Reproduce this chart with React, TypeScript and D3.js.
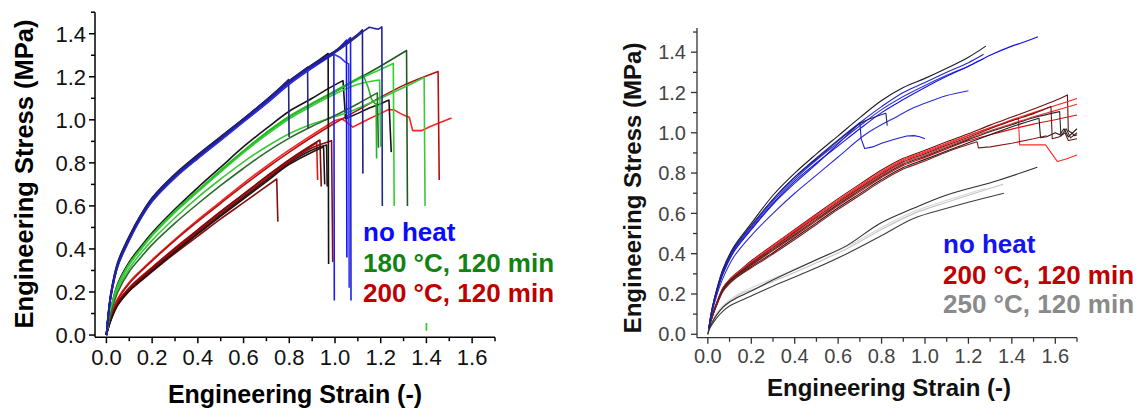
import React from 'react';
import * as d3 from 'd3';

type Pt = [number, number];
interface Curve { color: string; rise: Pt[]; tail?: Pt[] }

// ---------- shared axis ticks ----------
const xTicks = [0, 0.2, 0.4, 0.6, 0.8, 1.0, 1.2, 1.4, 1.6];
const xMinorTicks = [0.1, 0.3, 0.5, 0.7, 0.9, 1.1, 1.3, 1.5, 1.7];
const yTicks = [0, 0.2, 0.4, 0.6, 0.8, 1.0, 1.2, 1.4];
const yMinorTicks = [0.1, 0.3, 0.5, 0.7, 0.9, 1.1, 1.3, 1.5];

const xTitle = 'Engineering Strain (-)';
const yTitle = 'Engineering Stress (MPa)';

// ---------- left panel: no heat / 180 °C / 200 °C ----------
const leftLegend = ['no heat', '180 °C, 120 min', '200 °C, 120 min'];
const leftLegendColors = ['#0a0aff', '#128312', '#c00000'];

const leftNoHeat: Curve[] = [
  { color: '#26267a', rise: [[0, 0], [0.005, 0.06], [0.02, 0.19], [0.05, 0.33], [0.1, 0.45], [0.15, 0.55], [0.2, 0.63], [0.3, 0.74], [0.4, 0.83], [0.5, 0.915], [0.6, 1.0], [0.7, 1.09], [0.797, 1.187]], tail: [[0.799, 0.92]] },
  { color: '#2b2b6b', rise: [[0, 0], [0.005, 0.058], [0.02, 0.185], [0.05, 0.325], [0.1, 0.445], [0.15, 0.545], [0.2, 0.625], [0.3, 0.735], [0.4, 0.825], [0.5, 0.91], [0.6, 0.995], [0.7, 1.085], [0.8, 1.175], [0.88, 1.245]], tail: [[0.882, 0.96]] },
  { color: '#111111', rise: [[0, 0], [0.005, 0.065], [0.02, 0.2], [0.05, 0.34], [0.1, 0.46], [0.15, 0.558], [0.2, 0.638], [0.3, 0.748], [0.4, 0.838], [0.5, 0.922], [0.6, 1.005], [0.7, 1.092], [0.8, 1.18], [0.9, 1.255], [0.97, 1.308]], tail: [[0.972, 0.33]] },
  { color: '#1c1cf0', rise: [[0, 0], [0.005, 0.055], [0.02, 0.18], [0.05, 0.32], [0.1, 0.44], [0.15, 0.54], [0.2, 0.62], [0.3, 0.73], [0.4, 0.82], [0.5, 0.905], [0.6, 0.99], [0.7, 1.075], [0.8, 1.165], [0.9, 1.24], [0.995, 1.305]], tail: [[0.997, 0.16]] },
  { color: '#3a3ae6', rise: [[0, 0], [0.005, 0.057], [0.02, 0.183], [0.05, 0.322], [0.1, 0.442], [0.15, 0.542], [0.2, 0.622], [0.3, 0.732], [0.4, 0.823], [0.5, 0.908], [0.6, 0.993], [0.7, 1.08], [0.8, 1.17], [0.9, 1.245], [0.96, 1.293]], tail: [[0.98, 1.305], [1.0, 1.302], [1.025, 1.288], [1.045, 1.268], [1.06, 1.26], [1.062, 0.22]] },
  { color: '#0d0dff', rise: [[0, 0], [0.005, 0.06], [0.02, 0.19], [0.05, 0.332], [0.1, 0.452], [0.15, 0.552], [0.2, 0.632], [0.3, 0.742], [0.4, 0.832], [0.5, 0.917], [0.6, 1.002], [0.7, 1.09], [0.8, 1.178], [0.9, 1.252], [1.0, 1.318], [1.05, 1.37]], tail: [[1.052, 0.36]] },
  { color: '#2020e0', rise: [[0, 0], [0.005, 0.059], [0.02, 0.188], [0.05, 0.328], [0.1, 0.448], [0.15, 0.548], [0.2, 0.628], [0.3, 0.738], [0.4, 0.828], [0.5, 0.913], [0.6, 0.998], [0.7, 1.087], [0.8, 1.176], [0.9, 1.25], [1.0, 1.315], [1.068, 1.382]], tail: [[1.07, 0.16]] },
  { color: '#202080', rise: [[0, 0], [0.005, 0.062], [0.02, 0.193], [0.05, 0.335], [0.1, 0.455], [0.15, 0.555], [0.2, 0.635], [0.3, 0.745], [0.4, 0.835], [0.5, 0.92], [0.6, 1.004], [0.7, 1.093], [0.8, 1.182], [0.9, 1.256], [1.0, 1.32], [1.1, 1.398], [1.12, 1.418]], tail: [[1.122, 0.75]] },
  { color: '#24249a', rise: [[0, 0], [0.005, 0.058], [0.02, 0.187], [0.05, 0.327], [0.1, 0.447], [0.15, 0.547], [0.2, 0.627], [0.3, 0.737], [0.4, 0.827], [0.5, 0.912], [0.6, 0.997], [0.7, 1.086], [0.8, 1.174], [0.9, 1.248], [1.0, 1.312], [1.1, 1.39], [1.125, 1.412]], tail: [[1.15, 1.43], [1.17, 1.425], [1.19, 1.421], [1.205, 1.432], [1.207, 0.6]] },
];

const left180: Curve[] = [
  { color: '#161616', rise: [[0, 0], [0.005, 0.042], [0.02, 0.125], [0.05, 0.24], [0.1, 0.34], [0.15, 0.41], [0.2, 0.475], [0.3, 0.585], [0.4, 0.685], [0.5, 0.78], [0.6, 0.875], [0.7, 0.96], [0.8, 1.04], [0.9, 1.1], [0.97, 1.145], [1.035, 1.182]], tail: [[1.046, 1.005], [1.1, 1.03], [1.15, 1.055], [1.2, 1.075], [1.236, 1.092], [1.246, 0.85]] },
  { color: '#1f5a1f', rise: [[0, 0], [0.005, 0.04], [0.02, 0.12], [0.05, 0.23], [0.1, 0.33], [0.15, 0.4], [0.2, 0.465], [0.3, 0.575], [0.4, 0.67], [0.5, 0.765], [0.6, 0.855], [0.7, 0.94], [0.8, 1.015], [0.9, 1.075], [1.0, 1.13], [1.1, 1.19], [1.2, 1.25], [1.313, 1.322]], tail: [[1.317, 0.6]] },
  { color: '#2ed12e', rise: [[0, 0], [0.005, 0.041], [0.02, 0.122], [0.05, 0.232], [0.1, 0.332], [0.15, 0.402], [0.2, 0.467], [0.3, 0.577], [0.4, 0.672], [0.5, 0.767], [0.6, 0.857], [0.7, 0.942], [0.8, 1.017], [0.9, 1.077], [1.0, 1.132], [1.1, 1.187], [1.2, 1.235], [1.255, 1.262]], tail: [[1.259, 0.6]] },
  { color: '#3cc83c', rise: [[0, 0], [0.005, 0.035], [0.02, 0.11], [0.05, 0.215], [0.1, 0.31], [0.15, 0.38], [0.2, 0.44], [0.3, 0.545], [0.4, 0.64], [0.5, 0.725], [0.6, 0.805], [0.7, 0.875], [0.8, 0.935], [0.9, 0.98], [1.0, 1.015], [1.07, 1.04], [1.2, 1.1], [1.3, 1.15], [1.39, 1.197]], tail: [[1.394, 0.6]] },
  { color: '#25b525', rise: [[0, 0], [0.005, 0.04], [0.02, 0.12], [0.05, 0.23], [0.1, 0.33], [0.15, 0.4], [0.2, 0.465], [0.3, 0.575], [0.4, 0.67], [0.5, 0.763], [0.6, 0.853], [0.7, 0.938], [0.8, 1.013], [0.9, 1.075], [1.0, 1.135], [1.124, 1.207]], tail: [[1.145, 1.15], [1.16, 1.095], [1.175, 1.075], [1.18, 1.075], [1.182, 0.82]] },
  { color: '#33cc33', rise: [[0, 0], [0.005, 0.039], [0.02, 0.118], [0.05, 0.228], [0.1, 0.327], [0.15, 0.397], [0.2, 0.462], [0.3, 0.57], [0.4, 0.665], [0.5, 0.758], [0.6, 0.848], [0.7, 0.93], [0.8, 1.005], [0.9, 1.065], [1.0, 1.12], [1.1, 1.165], [1.195, 1.185]], tail: [[1.2, 0.875]] },
  { color: '#2d6b2d', rise: [[0, 0], [0.005, 0.033], [0.02, 0.1], [0.05, 0.2], [0.1, 0.295], [0.15, 0.36], [0.2, 0.42], [0.3, 0.52], [0.4, 0.61], [0.5, 0.695], [0.6, 0.775], [0.7, 0.85], [0.8, 0.915], [0.9, 0.97], [1.0, 1.02], [1.1, 1.075], [1.185, 1.125]], tail: [[1.19, 0.87]] },
];

// short green mark near the strain axis
const left180Mark: Pt[] = [[1.4, 0.02], [1.4, 0.056]];

const left200: Curve[] = [
  { color: '#ff2222', rise: [[0, 0], [0.005, 0.03], [0.02, 0.09], [0.05, 0.17], [0.1, 0.245], [0.15, 0.3], [0.2, 0.35], [0.3, 0.445], [0.4, 0.535], [0.5, 0.62], [0.6, 0.705], [0.7, 0.785], [0.8, 0.86], [0.9, 0.93], [1.0, 0.997]], tail: [[1.03, 1.005], [1.05, 0.99], [1.078, 0.966], [1.1, 0.978], [1.15, 1.005], [1.2, 1.03], [1.235, 1.048], [1.26, 1.045], [1.3, 1.022], [1.325, 1.012], [1.34, 0.95], [1.38, 0.95], [1.42, 0.97], [1.46, 0.988], [1.51, 1.008]] },
  { color: '#b31212', rise: [[0, 0], [0.005, 0.028], [0.02, 0.085], [0.05, 0.165], [0.1, 0.24], [0.15, 0.295], [0.2, 0.345], [0.3, 0.44], [0.4, 0.528], [0.5, 0.612], [0.6, 0.695], [0.7, 0.775], [0.8, 0.85], [0.9, 0.92], [1.0, 0.985], [1.1, 1.045], [1.2, 1.105], [1.3, 1.16], [1.451, 1.224]], tail: [[1.456, 0.72]] },
  { color: '#e01515', rise: [[0, 0], [0.005, 0.025], [0.02, 0.08], [0.05, 0.155], [0.1, 0.22], [0.15, 0.27], [0.2, 0.315], [0.3, 0.405], [0.4, 0.49], [0.5, 0.575], [0.6, 0.655], [0.7, 0.735], [0.8, 0.81], [0.92, 0.893]], tail: [[0.924, 0.72]] },
  { color: '#7a0a0a', rise: [[0, 0], [0.005, 0.024], [0.02, 0.078], [0.05, 0.152], [0.1, 0.217], [0.15, 0.267], [0.2, 0.312], [0.3, 0.402], [0.4, 0.488], [0.5, 0.573], [0.6, 0.655], [0.7, 0.737], [0.8, 0.815], [0.934, 0.906]], tail: [[0.94, 0.69]] },
  { color: '#1c1c1c', rise: [[0, 0], [0.005, 0.022], [0.02, 0.074], [0.05, 0.145], [0.1, 0.21], [0.15, 0.258], [0.2, 0.302], [0.3, 0.39], [0.4, 0.475], [0.5, 0.558], [0.6, 0.64], [0.7, 0.72], [0.8, 0.8], [0.9, 0.86], [0.963, 0.883]], tail: [[0.966, 0.69]] },
  { color: '#8e0c0c', rise: [[0, 0], [0.005, 0.023], [0.02, 0.076], [0.05, 0.148], [0.1, 0.213], [0.15, 0.262], [0.2, 0.307], [0.3, 0.396], [0.4, 0.482], [0.5, 0.565], [0.6, 0.647], [0.7, 0.727], [0.8, 0.805], [0.9, 0.87], [0.985, 0.903]], tail: [[0.99, 0.34]] },
  { color: '#850f0f', rise: [[0, 0], [0.005, 0.022], [0.02, 0.072], [0.05, 0.14], [0.1, 0.205], [0.15, 0.25], [0.2, 0.295], [0.3, 0.38], [0.4, 0.46], [0.5, 0.54], [0.6, 0.615], [0.745, 0.725]], tail: [[0.75, 0.527]] },
  { color: '#2a1010', rise: [[0, 0], [0.005, 0.021], [0.02, 0.07], [0.05, 0.14], [0.1, 0.205], [0.15, 0.253], [0.2, 0.297], [0.3, 0.385], [0.4, 0.47], [0.5, 0.552], [0.6, 0.633], [0.7, 0.713], [0.8, 0.793], [0.95, 0.875]], tail: [[0.955, 0.7]] },
];

// ---------- right panel: no heat / 200 °C / 250 °C ----------
const rightLegend = ['no heat', '200 °C, 120 min', '250 °C, 120 min'];
const rightLegendColors = ['#1414f0', '#c00000', '#8a8a8a'];

const rightNoHeat: Curve[] = [
  { color: '#1a1a2e', rise: [[0.005, 0.03], [0.01, 0.07], [0.02, 0.13], [0.04, 0.22], [0.07, 0.325], [0.12, 0.435], [0.2, 0.55], [0.3, 0.69], [0.4, 0.8], [0.5, 0.895], [0.6, 0.985], [0.7, 1.075], [0.8, 1.16], [0.9, 1.225], [1.0, 1.27], [1.1, 1.32], [1.2, 1.375], [1.28, 1.43]] },
  { color: '#2525c8', rise: [[0.005, 0.03], [0.01, 0.068], [0.02, 0.127], [0.04, 0.215], [0.07, 0.315], [0.12, 0.425], [0.2, 0.535], [0.3, 0.67], [0.4, 0.78], [0.5, 0.875], [0.6, 0.965], [0.7, 1.05], [0.8, 1.13], [0.9, 1.2], [1.0, 1.25], [1.1, 1.3], [1.2, 1.348], [1.27, 1.39]] },
  { color: '#3333dd', rise: [[0.005, 0.03], [0.01, 0.066], [0.02, 0.124], [0.04, 0.21], [0.07, 0.31], [0.12, 0.42], [0.2, 0.528], [0.3, 0.66], [0.4, 0.77], [0.5, 0.865], [0.6, 0.95], [0.7, 1.035], [0.8, 1.115], [0.9, 1.18], [1.0, 1.235], [1.1, 1.285], [1.2, 1.33], [1.27, 1.368]] },
  { color: '#1010e6', rise: [[0.005, 0.03], [0.01, 0.064], [0.02, 0.12], [0.04, 0.205], [0.07, 0.3], [0.12, 0.41], [0.2, 0.52], [0.3, 0.65], [0.4, 0.76], [0.5, 0.85], [0.6, 0.935], [0.7, 1.02], [0.8, 1.1], [0.9, 1.165], [1.0, 1.225], [1.1, 1.28], [1.2, 1.33], [1.3, 1.385], [1.4, 1.43], [1.45, 1.448], [1.52, 1.477]] },
  { color: '#2b2bd6', rise: [[0.005, 0.03], [0.01, 0.06], [0.02, 0.11], [0.04, 0.19], [0.07, 0.28], [0.12, 0.385], [0.2, 0.49], [0.3, 0.6], [0.4, 0.7], [0.5, 0.79], [0.6, 0.88], [0.73, 0.995], [0.87, 1.08], [0.95, 1.125], [1.04, 1.163], [1.1, 1.185], [1.2, 1.209]] },
  { color: '#1f1fcc', rise: [[0.005, 0.03], [0.01, 0.065], [0.02, 0.122], [0.04, 0.207], [0.07, 0.305], [0.12, 0.412], [0.2, 0.52], [0.3, 0.645], [0.4, 0.75], [0.5, 0.845], [0.6, 0.945], [0.7, 1.05]], tail: [[0.706, 0.97], [0.722, 0.922], [0.76, 0.93], [0.8, 0.948], [0.86, 0.968], [0.916, 0.984], [0.95, 0.986], [0.975, 0.98], [1.0, 0.97]] },
  { color: '#22226a', rise: [[0.005, 0.03], [0.01, 0.068], [0.02, 0.128], [0.04, 0.215], [0.07, 0.318], [0.12, 0.428], [0.2, 0.54], [0.3, 0.67], [0.4, 0.78], [0.5, 0.87], [0.6, 0.96], [0.7, 1.045], [0.76, 1.075], [0.82, 1.097]], tail: [[0.826, 1.035]] },
];

const right200: Curve[] = [
  { color: '#6e1010', rise: [[0.005, 0.03], [0.01, 0.056], [0.02, 0.093], [0.04, 0.155], [0.07, 0.232], [0.1, 0.273], [0.15, 0.32], [0.2, 0.365], [0.3, 0.443], [0.4, 0.52], [0.5, 0.597], [0.6, 0.673], [0.7, 0.745], [0.8, 0.815], [0.9, 0.873], [1.0, 0.913], [1.1, 0.955], [1.2, 0.995], [1.3, 1.038], [1.4, 1.078], [1.5, 1.118], [1.6, 1.16], [1.656, 1.188]], tail: [[1.66, 1.01], [1.675, 1.0], [1.69, 0.985], [1.7, 0.99]] },
  { color: '#ff1f1f', rise: [[0.005, 0.03], [0.01, 0.055], [0.02, 0.091], [0.04, 0.152], [0.07, 0.228], [0.1, 0.268], [0.15, 0.314], [0.2, 0.357], [0.3, 0.435], [0.4, 0.511], [0.5, 0.587], [0.6, 0.662], [0.7, 0.732], [0.8, 0.802], [0.9, 0.862], [1.0, 0.902], [1.1, 0.944], [1.2, 0.985], [1.3, 1.025], [1.4, 1.065], [1.5, 1.1], [1.6, 1.135], [1.7, 1.17]] },
  { color: '#f03030', rise: [[0.005, 0.03], [0.01, 0.055], [0.02, 0.09], [0.04, 0.15], [0.07, 0.225], [0.1, 0.265], [0.15, 0.31], [0.2, 0.35], [0.3, 0.425], [0.4, 0.5], [0.5, 0.575], [0.6, 0.65], [0.7, 0.72], [0.8, 0.79], [0.9, 0.85], [1.0, 0.89], [1.1, 0.932], [1.2, 0.972], [1.3, 1.01], [1.4, 1.045], [1.5, 1.08], [1.6, 1.11], [1.7, 1.142]] },
  { color: '#dd0a0a', rise: [[0.005, 0.03], [0.01, 0.054], [0.02, 0.088], [0.04, 0.147], [0.07, 0.221], [0.1, 0.26], [0.15, 0.304], [0.2, 0.342], [0.3, 0.415], [0.4, 0.488], [0.5, 0.563], [0.6, 0.638], [0.7, 0.708], [0.8, 0.778], [0.9, 0.838], [1.0, 0.878], [1.1, 0.92], [1.2, 0.96], [1.3, 0.99], [1.4, 1.018], [1.5, 1.043], [1.6, 1.065], [1.7, 1.088]] },
  { color: '#ff2a2a', rise: [[0.005, 0.03], [0.01, 0.056], [0.02, 0.092], [0.04, 0.153], [0.07, 0.23], [0.1, 0.27], [0.15, 0.317], [0.2, 0.36], [0.3, 0.44], [0.4, 0.516], [0.5, 0.592], [0.6, 0.667], [0.7, 0.738], [0.8, 0.808], [0.9, 0.867], [1.0, 0.907], [1.1, 0.948], [1.2, 0.988], [1.3, 1.025], [1.43, 1.07]], tail: [[1.436, 0.94], [1.5, 0.94], [1.555, 0.94], [1.61, 0.857], [1.65, 0.87], [1.7, 0.89]] },
  { color: '#1c1c1c', rise: [[0.005, 0.03], [0.01, 0.053], [0.02, 0.086], [0.04, 0.144], [0.07, 0.216], [0.1, 0.255], [0.15, 0.298], [0.2, 0.335], [0.3, 0.405], [0.4, 0.479], [0.5, 0.553], [0.6, 0.628], [0.7, 0.698], [0.8, 0.768], [0.9, 0.828], [1.0, 0.868], [1.1, 0.91], [1.2, 0.95], [1.3, 0.99], [1.4, 1.03], [1.525, 1.072]], tail: [[1.532, 0.975], [1.56, 0.98], [1.6, 1.0], [1.62, 0.99], [1.64, 1.02], [1.66, 0.98], [1.7, 1.02]] },
  { color: '#701515', rise: [[0.005, 0.03], [0.01, 0.055], [0.02, 0.09], [0.04, 0.151], [0.07, 0.226], [0.1, 0.266], [0.15, 0.312], [0.2, 0.353], [0.3, 0.43], [0.4, 0.506], [0.5, 0.581], [0.6, 0.656], [0.7, 0.726], [0.8, 0.796], [0.9, 0.856], [1.0, 0.896], [1.1, 0.938], [1.2, 0.978], [1.3, 1.02], [1.4, 1.06], [1.5, 1.095], [1.58, 1.13]], tail: [[1.586, 0.97], [1.62, 0.98], [1.645, 1.0], [1.66, 0.962], [1.7, 0.97]] },
  { color: '#2a2a2a', rise: [[0.005, 0.03], [0.01, 0.054], [0.02, 0.089], [0.04, 0.148], [0.07, 0.223], [0.1, 0.262], [0.15, 0.307], [0.2, 0.346], [0.3, 0.42], [0.4, 0.494], [0.5, 0.569], [0.6, 0.644], [0.7, 0.714], [0.8, 0.784], [0.9, 0.844], [1.0, 0.884], [1.1, 0.926], [1.2, 0.966], [1.3, 1.005], [1.4, 1.04], [1.5, 1.075], [1.62, 1.105]], tail: [[1.626, 0.985], [1.65, 1.02], [1.67, 0.975], [1.7, 1.0]] },
  { color: '#8a1a1a', rise: [[0.005, 0.03], [0.01, 0.053], [0.02, 0.085], [0.04, 0.142], [0.07, 0.214], [0.1, 0.252], [0.15, 0.295], [0.2, 0.33], [0.3, 0.398], [0.4, 0.47], [0.5, 0.545], [0.6, 0.62], [0.7, 0.69], [0.8, 0.76], [0.9, 0.82], [1.0, 0.86], [1.1, 0.905], [1.24, 0.955]], tail: [[1.246, 0.925], [1.3, 0.93], [1.4, 0.948], [1.5, 0.97], [1.56, 0.985]] },
];

const right250: Curve[] = [
  { color: '#c4c4c4', rise: [[0, 0], [0.005, 0.02], [0.02, 0.06], [0.05, 0.11], [0.1, 0.16], [0.15, 0.2], [0.2, 0.22], [0.33, 0.275], [0.5, 0.355], [0.64, 0.425], [0.8, 0.52], [0.95, 0.6], [1.1, 0.655], [1.36, 0.745]] },
  { color: '#d6d6d6', rise: [[0, 0], [0.005, 0.022], [0.02, 0.07], [0.05, 0.12], [0.1, 0.17], [0.15, 0.205], [0.2, 0.23], [0.33, 0.29], [0.5, 0.37], [0.64, 0.435], [0.8, 0.53], [0.95, 0.61], [1.1, 0.665], [1.28, 0.725]] },
  { color: '#3c3c3c', rise: [[0, 0], [0.005, 0.02], [0.02, 0.05], [0.04, 0.08], [0.07, 0.115], [0.1, 0.14], [0.2, 0.19], [0.33, 0.253], [0.5, 0.33], [0.64, 0.4], [0.8, 0.49], [0.947, 0.575], [1.1, 0.625], [1.2, 0.655], [1.363, 0.7]] },
  { color: '#2e2e2e', rise: [[0, 0], [0.005, 0.025], [0.02, 0.06], [0.04, 0.095], [0.07, 0.135], [0.1, 0.16], [0.15, 0.19], [0.2, 0.215], [0.33, 0.285], [0.5, 0.37], [0.64, 0.44], [0.794, 0.551], [0.947, 0.625], [1.1, 0.691], [1.316, 0.757], [1.517, 0.829]] },
];

const FONT = "Arial, 'Liberation Sans', Helvetica, sans-serif";
const fmt = d3.format('.1f');

interface PanelCfg {
  lineWidth: number;
  axisColor: string;
  axisWidth: number;
  tickColor: string;
  tickFont: number;
  majorLen: number;
  minorLen: number;
  yLabelX: number;
  xLabelBaseline: number;
  titleColor: string;
  xTitleFont: number;
  yTitleFont: number;
  xTitlePos: [number, number];
  yTitlePos: [number, number];
  legendX: number;
  legendBaselines: number[];
  legendFont: number;
}

function Panel({ x, y, groups, legend, legendColors, cfg, extra }: {
  x: d3.ScaleLinear<number, number>;
  y: d3.ScaleLinear<number, number>;
  groups: Curve[][];
  legend: string[];
  legendColors: string[];
  cfg: PanelCfg;
  extra?: { pts: Pt[]; color: string }[];
}) {
  const [xa, xb] = x.range();
  const [ya, yb] = y.range();
  const smooth = d3.line<Pt>().x(d => x(d[0])).y(d => y(d[1])).curve(d3.curveCatmullRom.alpha(0.5));
  const straight = d3.line<Pt>().x(d => x(d[0])).y(d => y(d[1]));
  const pathOf = (c: Curve) => {
    let p = smooth(c.rise) ?? '';
    if (c.tail) p += c.tail.map(d => `L${x(d[0])},${y(d[1])}`).join('');
    return p;
  };
  return (
    <g>
      {groups.map((g, gi) => (
        <g key={gi}>
          {g.map((c, ci) => (
            <path key={ci} d={pathOf(c)} fill="none" stroke={c.color}
              strokeWidth={cfg.lineWidth} strokeLinejoin="round" strokeLinecap="butt" />
          ))}
        </g>
      ))}
      {extra?.map((e, i) => (
        <path key={`e${i}`} d={straight(e.pts) ?? ''} fill="none" stroke={e.color} strokeWidth={cfg.lineWidth} />
      ))}
      {/* axes */}
      <line x1={xa} x2={xa} y1={ya} y2={yb} stroke={cfg.axisColor} strokeWidth={cfg.axisWidth} />
      <line x1={xa} x2={xb} y1={ya} y2={ya} stroke={cfg.axisColor} strokeWidth={cfg.axisWidth} />
      {yTicks.map(v => (
        <g key={`yt${v}`}>
          <line x1={xa - cfg.majorLen} x2={xa} y1={y(v)} y2={y(v)} stroke={cfg.axisColor} strokeWidth={cfg.axisWidth} />
          <text x={cfg.yLabelX} y={y(v) + cfg.tickFont * 0.36} textAnchor="end" fontFamily={FONT}
            fontSize={cfg.tickFont} fill={cfg.tickColor}>{fmt(v)}</text>
        </g>
      ))}
      {yMinorTicks.map(v => (
        <line key={`ym${v}`} x1={xa - cfg.minorLen} x2={xa} y1={y(v)} y2={y(v)} stroke={cfg.axisColor} strokeWidth={cfg.axisWidth} />
      ))}
      {xTicks.map(v => (
        <g key={`xt${v}`}>
          <line x1={x(v)} x2={x(v)} y1={ya} y2={ya + cfg.majorLen} stroke={cfg.axisColor} strokeWidth={cfg.axisWidth} />
          <text x={x(v)} y={cfg.xLabelBaseline} textAnchor="middle" fontFamily={FONT}
            fontSize={cfg.tickFont} fill={cfg.tickColor}>{fmt(v)}</text>
        </g>
      ))}
      {xMinorTicks.map(v => (
        <line key={`xm${v}`} x1={x(v)} x2={x(v)} y1={ya} y2={ya + cfg.minorLen} stroke={cfg.axisColor} strokeWidth={cfg.axisWidth} />
      ))}
      <text x={cfg.xTitlePos[0]} y={cfg.xTitlePos[1]} textAnchor="middle" fontFamily={FONT}
        fontWeight="bold" fontSize={cfg.xTitleFont} fill={cfg.titleColor}>{xTitle}</text>
      <text transform={`translate(${cfg.yTitlePos[0]},${cfg.yTitlePos[1]}) rotate(-90)`} textAnchor="middle"
        fontFamily={FONT} fontWeight="bold" fontSize={cfg.yTitleFont} fill={cfg.titleColor}>{yTitle}</text>
      {legend.map((t, i) => (
        <text key={t} x={cfg.legendX} y={cfg.legendBaselines[i]} fontFamily={FONT} fontWeight="bold"
          fontSize={cfg.legendFont} fill={legendColors[i]}>{t}</text>
      ))}
    </g>
  );
}

export default function App() {
  const lx = d3.scaleLinear().domain([-0.05, 1.7]).range([95, 495]);
  const ly = d3.scaleLinear().domain([-0.01, 1.5]).range([337.2, 12.2]);
  const rx = d3.scaleLinear().domain([-0.05, 1.7]).range([697, 1077]);
  const ry = d3.scaleLinear().domain([-0.017, 1.52]).range([337.7, 28]);

  const leftCfg: PanelCfg = {
    lineWidth: 1.6, axisColor: '#000', axisWidth: 1.5, tickColor: '#111', tickFont: 22,
    majorLen: 6, minorLen: 4, yLabelX: 86, xLabelBaseline: 365, titleColor: '#000',
    xTitleFont: 25, yTitleFont: 25.5, xTitlePos: [295, 403], yTitlePos: [33, 174],
    legendX: 363, legendBaselines: [240.7, 271.7, 301.7], legendFont: 26,
  };
  const rightCfg: PanelCfg = {
    lineWidth: 1.1, axisColor: '#333', axisWidth: 1.3, tickColor: '#444', tickFont: 20,
    majorLen: 6, minorLen: 4, yLabelX: 686, xLabelBaseline: 362.5, titleColor: '#111',
    xTitleFont: 24, yTitleFont: 24, xTitlePos: [889, 396], yTitlePos: [641, 188],
    legendX: 943, legendBaselines: [253, 284, 313], legendFont: 26,
  };

  return (
    <svg width={1144} height={410} style={{ position: 'absolute', left: 0, top: 0, background: '#fff' }}>
      <rect width={1144} height={410} fill="#fff" />
      <Panel x={lx} y={ly} groups={[left200, left180, leftNoHeat]} legend={leftLegend}
        legendColors={leftLegendColors} cfg={leftCfg} extra={[{ pts: left180Mark, color: '#22cc22' }]} />
      <Panel x={rx} y={ry} groups={[right250, right200, rightNoHeat]} legend={rightLegend}
        legendColors={rightLegendColors} cfg={rightCfg} />
    </svg>
  );
}
